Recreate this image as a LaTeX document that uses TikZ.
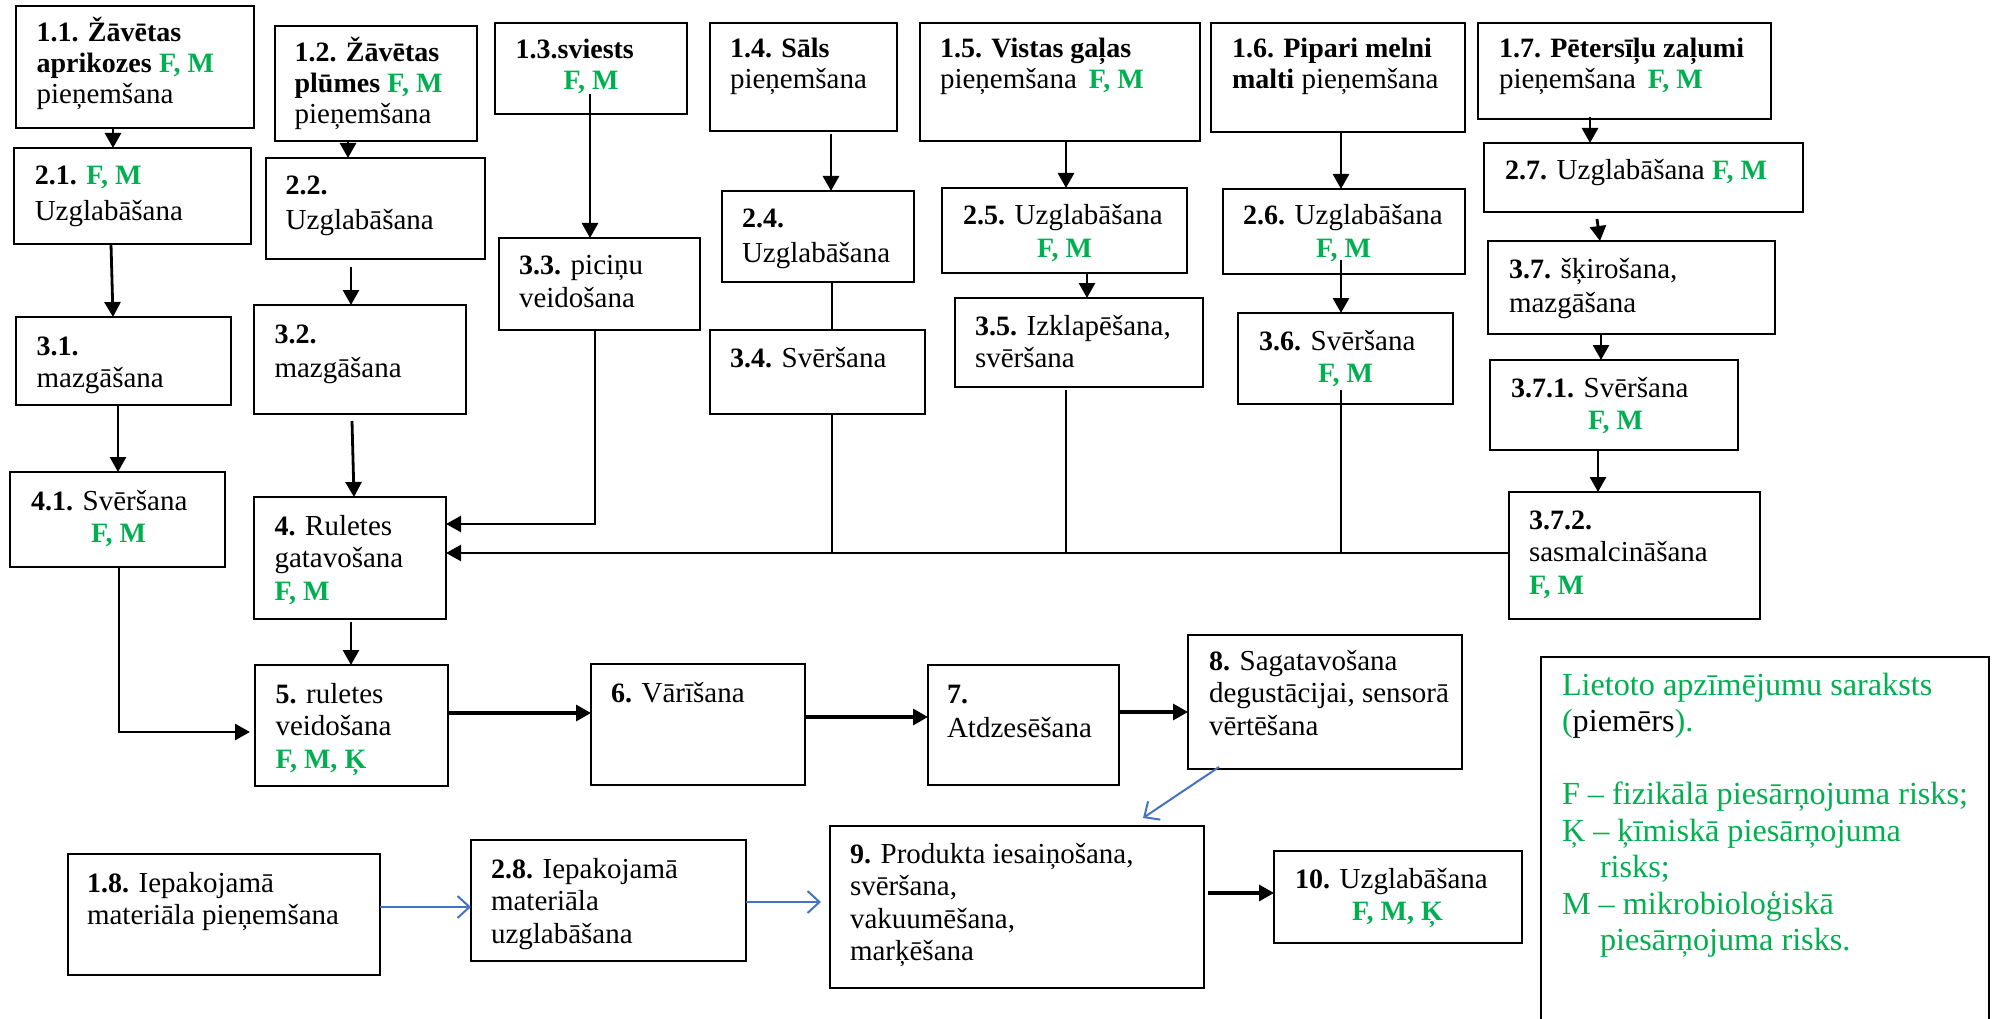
\documentclass[tikz,border=0pt]{standalone}
\usepackage{fontspec}
\setmainfont[BoldFeatures={Scale=0.966}]{Liberation Serif}
\usetikzlibrary{arrows.meta,calc}
\definecolor{hg}{RGB}{0,176,80}
\definecolor{ab}{RGB}{68,114,196}
\newcommand\FMg{\textcolor{hg}{\textbf{F, M}}}
\newcommand\FMKg{\textcolor{hg}{\textbf{F, M, Ķ}}}
\newcommand\tl[1]{\begin{tabular}[t]{@{}l@{}}#1\end{tabular}}
\newcommand\mkbox[5]{\node[box, minimum width={(#4-#2)*1pt}, minimum height={(#5-#3)*1pt}] (#1) at ({(#2+#4)/2},{(#3+#5)/2}) {};}
\begin{document}
\begin{tikzpicture}[x=1pt,y=-1pt,
 box/.style={draw, line width=2.5pt, inner sep=0pt, outer sep=0pt},
 txt/.style={anchor=base west, inner sep=0pt, outer sep=0pt, font=\fontsize{29}{32.5}\selectfont},
 toptxt/.style={txt, font=\fontsize{29}{31}\selectfont},
 arr/.style={line width=2.8pt, -{Triangle[length=15pt,width=16pt]}},
 harr/.style={line width=3.2pt, -{Triangle[length=15pt,width=16pt]}},
 ln/.style={line width=2pt},
 barr/.style={draw=ab, line width=2pt, -{Straight Barb[length=12pt,width=22pt,line width=2pt]}}]
\path[use as bounding box, fill=white] (0,0) rectangle (1995,1019);
% boxes
\mkbox{b11}{16}{6}{254}{128}
\mkbox{b12}{275}{26}{477}{141}
\mkbox{b13}{495}{23}{687}{114}
\mkbox{b14}{710}{23}{897}{131}
\mkbox{b15}{920}{23}{1200}{141}
\mkbox{b16}{1211}{23}{1465}{132}
\mkbox{b17}{1478}{23}{1771}{119}
\mkbox{b21}{14}{148}{251}{244}
\mkbox{b22}{266}{158}{485}{259}
\mkbox{b33}{499}{238}{700}{330}
\mkbox{b24}{722}{191}{914}{282}
\mkbox{b25}{942}{188}{1187}{273}
\mkbox{b26}{1223}{189}{1465}{274}
\mkbox{b27}{1484}{143}{1803}{212}
\mkbox{b31}{16}{317}{231}{405}
\mkbox{b32}{254}{305}{466}{414}
\mkbox{b34}{710}{330}{925}{414}
\mkbox{b35}{955}{298}{1203}{387}
\mkbox{b36}{1238}{313}{1453}{404}
\mkbox{b37}{1488}{241}{1775}{334}
\mkbox{b371}{1490}{360}{1738}{450}
\mkbox{b372}{1509}{492}{1760}{619}
\mkbox{b41}{10}{472}{225}{567}
\mkbox{b4}{254}{497}{446}{619}
\mkbox{b5}{255}{665}{448}{786}
\mkbox{b6}{591}{664}{805}{785}
\mkbox{b7}{928}{665}{1119}{785}
\mkbox{b8}{1188}{635}{1462}{769}
\mkbox{b18}{68}{854}{380}{975}
\mkbox{b28}{471}{840}{746}{961}
\mkbox{b9}{830}{826}{1204}{988}
\mkbox{b10}{1274}{851}{1522}{943}
\node[draw, line width=1.5pt, inner sep=0pt, minimum width=448pt, minimum height=366pt] (leg) at (1765,840) {};
% connectors
\draw[arr] ($(b11.south)+(-22,0)$) -- ($(b21.north)+(-19.5,0)$);
\draw[arr] ($(b12.south)+(-28,0)$) -- ($(b22.north)+(-27.5,0)$);
\draw[arr] ($(b13.south)+(-1,-20)$) -- ($(b33.north)+(-9.5,0)$);
\draw[arr] ($(b21.south)+(-21.5,0)$) -- ($(b31.north)+(-10.5,0)$);
\draw[arr] ($(b22.south)+(-24.5,8)$) -- ($(b32.north)+(-9,0)$);
\draw[arr] ($(b14.south)+(27.5,3)$) -- ($(b24.north)+(13,0)$);
\draw[arr] ($(b15.south)+(6,0)$) -- ($(b25.north)+(1.5,0)$);
\draw[arr] ($(b16.south)+(3,0)$) -- ($(b26.north)+(-3,0)$);
\draw[arr] ($(b17.south)+(-34.5,-2)$) -- ($(b27.north)+(-53.5,0)$);
\draw[arr] ($(b27.south)+(-46.5,7)$) -- ($(b37.north)+(-31.5,0)$);
\draw[arr] ($(b25.south)+(22.5,0)$) -- ($(b35.north)+(8,0)$);
\draw[arr] ($(b26.south)+(-3,-14)$) -- ($(b36.north)+(-4.5,0)$);
\draw[arr] ($(b37.south)+(-30.5,0)$) -- ($(b371.north)+(-13,0)$);
\draw[arr] ($(b371.south)+(-16,0)$) -- ($(b372.north)+(-36.5,0)$);
\draw[arr] ($(b31.south)+(-5.5,0)$) -- ($(b41.north)+(0.5,0)$);
\draw[arr] ($(b32.south)+(-8,7)$) -- ($(b4.north)+(4,0)$);
\draw[arr, line width=2.2pt] ($(b33.south)+(-4.5,0)$) |- ($(b4.east)+(0,-34)$);
\coordinate (bus) at (0,553);
\draw[arr, line width=2.2pt] (b372.west |- bus) -- (b4.east |- bus);
\draw[ln] ($(b24.south)+(14,0)$) -- ($(b34.north)+(14.5,0)$);
\draw[ln] ($(b34.south)+(14.5,0)$) -- ++(0,139);
\draw[ln] ($(b35.south)+(-13,3)$) -- ++(0,163);
\draw[ln] ($(b36.south)+(-4.5,-14)$) -- ++(0,163);
\draw[arr] ($(b4.south)+(1,3)$) -- ($(b5.north)+(-0.5,0)$);
\draw[arr] ($(b41.south)+(1.5,0)$) |- ($(b5.west)+(-5,6.5)$);
\draw[harr] ($(b5.east)+(0,-12.5)$) -- ($(b6.west)+(0,-11.5)$);
\draw[harr] ($(b6.east)+(0,-7.5)$) -- ($(b7.west)+(0,-8)$);
\draw[harr] ($(b7.east)+(0,-13)$) -- ($(b8.west)+(0,10)$);
\draw[harr] ($(b9.east)+(4,-14)$) -- ($(b10.west)+(0,-4)$);
\draw[barr] ($(b8.south)+(-106,-2)$) -- ($(b9.north)+(126,-8)$);
\draw[barr] ($(b18.east)+(0,-7.5)$) -- ($(b28.west)+(0,6.5)$);
\draw[barr] ($(b28.east)+(0,1.5)$) -- ($(b9.west)+(-9,-5)$);
% texts
\node[toptxt] (t11) at (36.6,41.7) {\tl{\textbf{1.1. Žāvētas}\\\textbf{aprikozes} \FMg\\pieņemšana}};
\node[toptxt] (t12) at (294.6,61.7) {\tl{\textbf{1.2. Žāvētas}\\\textbf{plūmes} \FMg\\pieņemšana}};
\node[toptxt] (t13) at (515.6,58.3) {\tl{\textbf{1.3.sviests}\\\hspace*{48pt}\FMg}};
\node[toptxt] (t14) at (730,58) {\tl{\textbf{1.4. Sāls}\\pieņemšana}};
\node[toptxt] (t15) at (940,58) {\tl{\textbf{1.5. Vistas gaļas}\\pieņemšana\hspace{12pt}\FMg}};
\node[toptxt] (t16) at (1232,58) {\tl{\textbf{1.6. Pipari melni}\\\textbf{malti} pieņemšana}};
\node[toptxt] (t17) at (1499,58) {\tl{\textbf{1.7. Pētersīļu zaļumi}\\pieņemšana\hspace{12pt}\FMg}};
\node[txt] (t21) at (34.8,185) {\tl{\textbf{2.1.} \FMg\\[3pt]Uzglabāšana}};
\node[txt] (t22) at (285.7,195) {\tl{\textbf{2.2.}\\[2pt]Uzglabāšana}};
\node[txt] (t33) at (519,275) {\tl{\textbf{3.3.} piciņu\\veidošana}};
\node[txt] (t24) at (742,228) {\tl{\textbf{2.4.}\\[2pt]Uzglabāšana}};
\node[txt] (t25) at (963,225) {\tl{\textbf{2.5.} Uzglabāšana\\\hspace*{74pt}\FMg}};
\node[txt] (t26) at (1243,225) {\tl{\textbf{2.6.} Uzglabāšana\\\hspace*{73pt}\FMg}};
\node[txt] (t27) at (1505,180) {\tl{\textbf{2.7.} Uzglabāšana \FMg}};
\node[txt] (t37) at (1509,278) {\tl{\textbf{3.7.} šķirošana,\\[2pt]mazgāšana}};
\node[txt] (t31) at (36.6,355) {\tl{\textbf{3.1.}\\mazgāšana}};
\node[txt] (t32) at (274.5,343) {\tl{\textbf{3.2.}\\[2pt]mazgāšana}};
\node[txt] (t34) at (730,367) {\tl{\textbf{3.4.} Svēršana}};
\node[txt] (t35) at (975,335) {\tl{\textbf{3.5.} Izklapēšana,\\svēršana}};
\node[txt] (t36) at (1259,350) {\tl{\textbf{3.6.} Svēršana\\\hspace*{59pt}\FMg}};
\node[txt] (t371) at (1511,397) {\tl{\textbf{3.7.1.} Svēršana\\\hspace*{77pt}\FMg}};
\node[txt] (t372) at (1529,529) {\tl{\textbf{3.7.2.}\\sasmalcināšana\\\FMg}};
\node[txt] (t41) at (31,510) {\tl{\textbf{4.1.} Svēršana\\\hspace*{60pt}\FMg}};
\node[txt] (t4) at (274.5,535) {\tl{\textbf{4.} Ruletes\\gatavošana\\\FMg}};
\node[txt] (t5) at (275.5,703) {\tl{\textbf{5.} ruletes\\veidošana\\\FMKg}};
\node[txt] (t6) at (611,702) {\tl{\textbf{6.} Vārīšana}};
\node[txt] (t7) at (947,703) {\tl{\textbf{7.}\\[2pt]Atdzesēšana}};
\node[txt] (t8) at (1209,670) {\tl{\textbf{8.} Sagatavošana\\degustācijai, sensorā\\vērtēšana}};
\node[txt] (t18) at (87,892) {\tl{\textbf{1.8.} Iepakojamā\\materiāla pieņemšana}};
\node[txt] (t28) at (491,878) {\tl{\textbf{2.8.} Iepakojamā\\materiāla\\uzglabāšana}};
\node[txt] (t9) at (850,863) {\tl{\textbf{9.} Produkta iesaiņošana,\\svēršana,\\vakuumēšana,\\marķēšana}};
\node[txt] (t10) at (1295,888) {\tl{\textbf{10.} Uzglabāšana\\\hspace*{57pt}\FMKg}};
\node[txt, text=hg, font=\fontsize{32.2}{36.5}\selectfont] (tleg) at (1562,695) {\tl{Lietoto apzīmējumu saraksts\\(\textcolor{black}{piemērs}).\\[36.5pt]F – fizikālā piesārņojuma risks;\\Ķ – ķīmiskā piesārņojuma\\\hspace*{38pt}risks;\\M – mikrobioloģiskā\\\hspace*{38pt}piesārņojuma risks.}};
\end{tikzpicture}
\end{document}
